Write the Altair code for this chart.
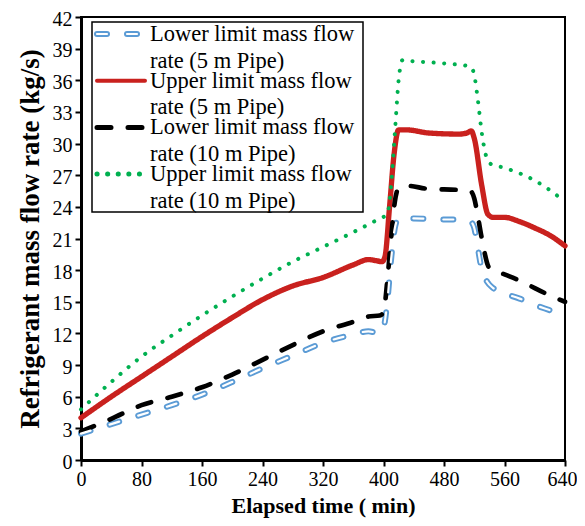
import altair as alt
import pandas as pd

names = [
    ["Lower limit mass flow", "rate (5 m Pipe)"],
    ["Upper limit mass flow", "rate (5 m Pipe)"],
    ["Lower limit mass flow", "rate (10 m Pipe)"],
    ["Upper limit mass flow", "rate (10 m Pipe)"],
]
keys = [" ".join(n) for n in names]
colors = ["#5b9bd5", "#c9211e", "#000000", "#00b050"]
dashes = [[10, 20], [1, 0], [14, 17], [0.1, 10.5]]
widths = [6, 4, 5, 5]

# Lower limit, 5 m pipe
t_low5 = [0, 40, 80, 120, 160, 200, 240, 280, 320, 360, 380, 395, 400, 405, 410, 415, 420,
          440, 480, 500, 515, 520, 525, 530, 537, 545, 560, 580, 600, 620, 640]
v_low5 = [2.5, 3.4, 4.3, 5.2, 6.2, 7.4, 8.7, 9.9, 11.1, 11.9, 12.2, 12.0, 12.5, 15, 19, 22, 22.9,
          22.9, 22.8, 22.8, 22.6, 22, 20, 18, 16.9, 16.3, 15.8, 15.3, 14.7, 14.2, 13.7]

# Upper limit, 5 m pipe
t_up5 = [0, 40, 80, 120, 160, 200, 240, 280, 320, 360, 380, 390, 398, 402, 408, 414, 420,
         430, 460, 500, 510, 516, 520, 530, 538, 545, 560, 580, 600, 620, 640]
v_up5 = [4.0, 6.0, 7.9, 9.8, 11.7, 13.5, 15.2, 16.5, 17.3, 18.5, 19.0, 18.9, 18.8, 19.3, 24, 29, 31.3,
         31.3, 31.0, 30.9, 31.0, 31.2, 30.5, 26, 23.3, 23.0, 23.0, 22.6, 22.0, 21.3, 20.3]

# Lower limit, 10 m pipe
t_low10 = [0, 40, 80, 120, 160, 200, 240, 280, 320, 360, 380, 395, 400, 405, 410, 415, 420,
           430, 460, 500, 515, 520, 525, 530, 540, 560, 580, 600, 620, 640]
v_low10 = [2.7, 3.9, 5.2, 6.0, 6.9, 8.1, 9.5, 10.9, 12.2, 13.1, 13.6, 13.7, 14, 17, 21, 24.5, 25.8,
           26.0, 25.7, 25.6, 25.5, 24.8, 23, 21, 18.2, 17.6, 17.0, 16.3, 15.6, 15.0]

# Upper limit, 10 m pipe
t_up10 = [0, 40, 80, 120, 160, 200, 240, 280, 320, 360, 395, 405, 410, 415, 420, 425,
          440, 480, 515, 520, 525, 530, 535, 541, 560, 600, 640]
v_up10 = [4.8, 7.4, 9.8, 11.8, 13.7, 15.5, 17.2, 18.8, 20.2, 21.6, 22.9, 23.3, 26, 31, 36, 37.9,
          37.8, 37.6, 37.3, 36.5, 34, 31, 29, 28.1, 27.7, 26.5, 24.5]

x_ticks = [0, 80, 160, 240, 320, 400, 480, 560, 640]
y_ticks = [0, 3, 6, 9, 12, 15, 18, 21, 24, 27, 30, 33, 36, 39, 42]

rows = []
for i, (ts, vs) in enumerate([(t_low5, v_low5), (t_up5, v_up5), (t_low10, v_low10), (t_up10, v_up10)]):
    for t, v in zip(ts, vs):
        rows.append({"t": t, "v": v, "s": keys[i], "k": i})
df = pd.DataFrame(rows)

serif = "Liberation Serif"

xenc = alt.X("t:Q", scale=alt.Scale(domain=[0, 640], nice=False, zero=False),
             axis=alt.Axis(values=x_ticks, title="Elapsed time ( min)", grid=False,
                           titlePadding=6, labelPadding=3, labelFlush=False,
                           labelOffset={"condition": {"test": "datum.value === 640", "value": -3},
                                        "value": 0}))
yenc = alt.Y("v:Q", scale=alt.Scale(domain=[0, 42], nice=False),
             axis=alt.Axis(values=y_ticks, title="Refrigerant mass flow rate (kg/s)", grid=False,
                           titlePadding=8, labelPadding=3, labelOffset=2))

lines = alt.Chart(df).mark_line(strokeCap="round", strokeJoin="round", interpolate="monotone").encode(
    x=xenc, y=yenc,
    color=alt.Color("s:N", scale=alt.Scale(domain=keys, range=colors), legend=None),
    strokeDash=alt.StrokeDash("s:N", scale=alt.Scale(domain=keys, range=dashes), legend=None),
    strokeWidth=alt.StrokeWidth("s:N", scale=alt.Scale(domain=keys, range=widths), legend=None),
)

inner = alt.Chart(df[df["k"] == 0]).mark_line(
    strokeCap="round", strokeJoin="round", interpolate="monotone",
    color="white", strokeWidth=2.2, strokeDash=[10, 20]
).encode(x=xenc, y=yenc)

# ---- legend (drawn as a boxed key in the upper-left corner of the plot) ----
one = pd.DataFrame({"a": [0]})
leg_layers = [
    alt.Chart(one).mark_rect(fill="white", stroke="black", strokeWidth=1.5).encode(
        x=alt.value(11), x2=alt.value(282), y=alt.value(5), y2=alt.value(195))
]
for i, lab in enumerate(names):
    yy = 17 + i * 46.7
    leg_layers.append(
        alt.Chart(one).mark_rule(color=colors[i], strokeWidth=widths[i], strokeDash=dashes[i],
                                 strokeCap="round").encode(
            x=alt.value(16), x2=alt.value(64), y=alt.value(yy))
    )
    if i == 0:
        leg_layers.append(
            alt.Chart(one).mark_rule(color="white", strokeWidth=2.2, strokeDash=dashes[i],
                                     strokeCap="round").encode(
                x=alt.value(16), x2=alt.value(64), y=alt.value(yy))
        )
    leg_layers.append(
        alt.Chart(one).mark_text(text=lab, align="left", baseline="middle", font=serif,
                                 fontSize=22.5, lineHeight=26.5, color="black").encode(
            x=alt.value(69), y=alt.value(yy))
    )

chart = alt.layer(lines, inner, *leg_layers).properties(
    width=484, height=443,
    autosize=alt.AutoSizeParams(type="none"),
    padding={"left": 73, "top": 9, "right": 12, "bottom": 58},
).configure_view(stroke="black", strokeWidth=2).configure_axis(
    labelFont=serif, labelFontSize=20, labelColor="black",
    titleFont=serif, titleFontWeight="bold", titleColor="black",
    tickColor="black", tickSize=6, tickWidth=2,
    domainColor="black", domainWidth=3,
).configure_axisY(titleFontSize=27).configure_axisX(titleFontSize=22)

chart.save("out.html", embed_options={"renderer": "svg", "actions": False})
